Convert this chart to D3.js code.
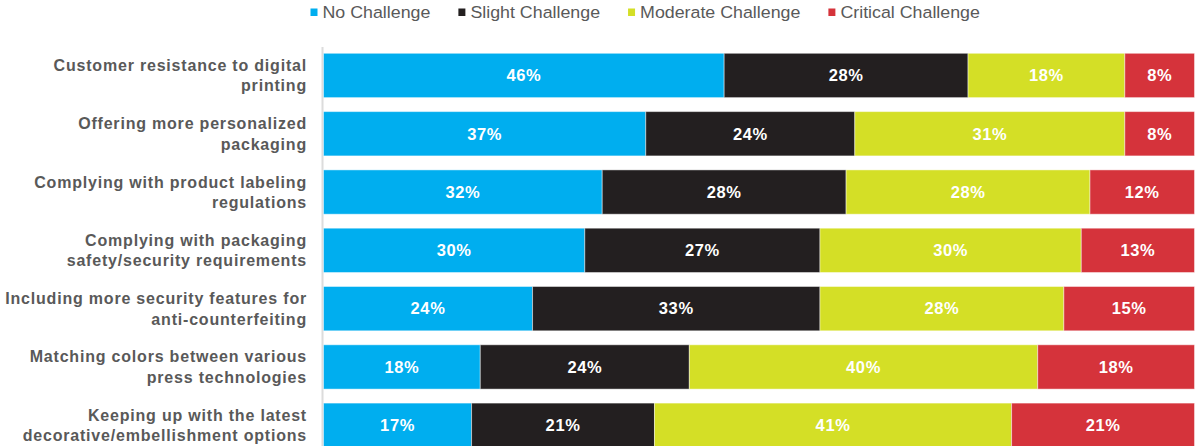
<!DOCTYPE html>
<html>
<head>
<meta charset="utf-8">
<script src="https://cdn.jsdelivr.net/npm/d3@7"></script>
<style>
  body { margin: 0; background: #fff; }
  svg { display: block; font-family: "Liberation Sans", Arial, sans-serif; }
</style>
</head>
<body>
<svg id="main-svg" width="1197" height="446"></svg>
<script>
(function() {

    // categories, two lines each
    var categories = [
        ["Customer resistance to digital", "printing"],
        ["Offering more personalized", "packaging"],
        ["Complying with product labeling", "regulations"],
        ["Complying with packaging", "safety/security requirements"],
        ["Including more security features for", "anti-counterfeiting"],
        ["Matching colors between various", "press technologies"],
        ["Keeping up with the latest", "decorative/embellishment options"]
    ];

    var seriesNames = ["No Challenge", "Slight Challenge", "Moderate Challenge", "Critical Challenge"];

    var noChallenge       = [46, 37, 32, 30, 24, 18, 17];
    var slightChallenge   = [28, 24, 28, 27, 33, 24, 21];
    var moderateChallenge = [18, 31, 28, 30, 28, 40, 41];
    var criticalChallenge = [8, 8, 12, 13, 15, 18, 21];

    var colors = ["#00aeef", "#231f20", "#d4df26", "#d5333b"];

    var rows = categories.map(function(c, i) {
        return {
            key: i,
            "No Challenge": noChallenge[i],
            "Slight Challenge": slightChallenge[i],
            "Moderate Challenge": moderateChallenge[i],
            "Critical Challenge": criticalChallenge[i]
        };
    });

    var svg = d3.select("#main-svg");

    var x = d3.scaleLinear().domain([0, 100]).range([323.5, 1194.5]);
    var y = d3.scaleBand()
        .domain(d3.range(categories.length))
        .range([46.3, 454.4])
        .paddingInner(0.24)
        .paddingOuter(0.12);

    var color = d3.scaleOrdinal().domain(seriesNames).range(colors);

    var stacked = d3.stack().keys(seriesNames)(rows);

    // light axis line on the left
    svg.append("line")
        .attr("x1", 322.5).attr("x2", 322.5)
        .attr("y1", 47).attr("y2", 446)
        .attr("stroke", "#dcdcdc")
        .attr("stroke-width", 2);

    var layer = svg.selectAll(".layer")
        .data(stacked)
        .enter()
        .append("g")
        .classed("layer", true)
        .attr("fill", function(s) { return color(s.key); });

    layer.selectAll("rect")
        .data(function(s) { return s; })
        .enter()
        .append("rect")
        .attr("x", function(d) { return x(d[0]); })
        .attr("y", function(d, i) { return y(i); })
        .attr("width", function(d) { return x(d[1]) - x(d[0]); })
        .attr("height", y.bandwidth())
        .attr("stroke", "#ffffff")
        .attr("stroke-opacity", 0.45)
        .attr("stroke-width", 1);

    layer.selectAll("text")
        .data(function(s) { return s; })
        .enter()
        .append("text")
        .attr("x", function(d) { return (x(d[0]) + x(d[1])) / 2; })
        .attr("y", function(d, i) { return y(i) + y.bandwidth() / 2; })
        .attr("dy", "0.35em")
        .attr("text-anchor", "middle")
        .attr("fill", "#ffffff")
        .attr("font-weight", "bold")
        .attr("font-size", 16.5)
        .attr("letter-spacing", 0.6)
        .text(function(d) { return Math.round(d[1] - d[0]) + "%"; });

    // category labels
    var labels = svg.selectAll(".label")
        .data(categories)
        .enter()
        .append("text")
        .classed("label", true)
        .attr("text-anchor", "end")
        .attr("fill", "#595959")
        .attr("font-weight", "bold")
        .attr("font-size", 16)
        .attr("letter-spacing", 0.8)
        .attr("transform", function(c, i) {
            return "translate(307," + (y(i) + y.bandwidth() / 2) + ")";
        });

    labels.selectAll("tspan")
        .data(function(c) { return c; })
        .enter()
        .append("tspan")
        .attr("x", 0)
        .attr("y", function(t, j) { return j === 0 ? -4.5 : 16; })
        .text(function(t) { return t; });

    // legend, laid out left to right
    var legend = svg.append("g").attr("transform", "translate(310.5,0)");
    var offset = 0;
    seriesNames.forEach(function(name) {
        var item = legend.append("g").attr("transform", "translate(" + offset + ",0)");
        item.append("rect")
            .attr("x", 0).attr("y", 8.5)
            .attr("width", 7).attr("height", 7.5)
            .attr("fill", color(name));
        var t = item.append("text")
            .attr("transform", "translate(12,18.2) scale(1.08,1)")
            .attr("font-size", 16.5)
            .attr("fill", "#595959")
            .text(name);
        var w = t.node().getComputedTextLength() * 1.08;
        offset += 12 + w + 28;
    });
})();
</script>
</body>
</html>
